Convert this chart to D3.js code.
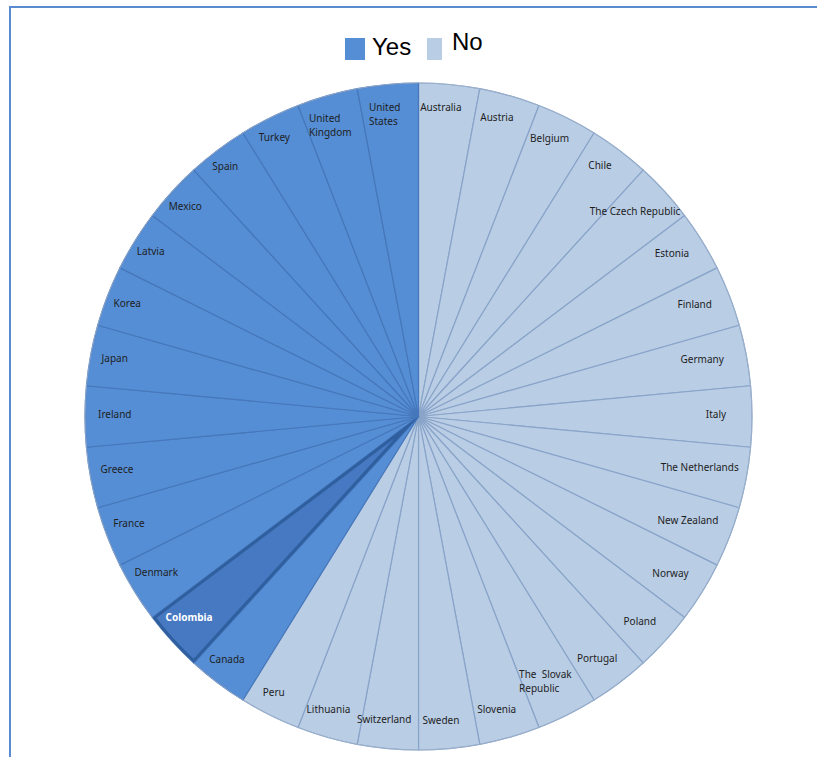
<!DOCTYPE html>
<html>
<head>
<meta charset="utf-8">
<script src="https://cdn.jsdelivr.net/npm/d3@7/dist/d3.min.js"></script>
<style>
  html, body { margin: 0; padding: 0; background: #fff; }
  svg { display: block; }
</style>
</head>
<body>
<div id="chart"></div>
<script>
// answer groups, in the order the slices run clockwise from 12 o'clock
var groups = ["No", "Yes"];
var groupColors = { Yes: "#558ed5", No: "#b9cde5" };

var noCountries = ["Australia", "Austria", "Belgium", "Chile", "The Czech Republic",
  "Estonia", "Finland", "Germany", "Italy", "The Netherlands", "New Zealand", "Norway",
  "Poland", "Portugal", "The Slovak Republic", "Slovenia", "Sweden", "Switzerland",
  "Lithuania", "Peru"];
var yesCountries = ["Canada", "Colombia", "Denmark", "France", "Greece", "Ireland",
  "Japan", "Korea", "Latvia", "Mexico", "Spain", "Turkey", "United Kingdom", "United States"];

// every country counts once
var countryWeight = 1;
var highlighted = "Colombia";

// labels that wrap onto two lines
var labelLines = {
  "United States": ["United", "States"],
  "United Kingdom": ["United", "Kingdom"],
  "The Slovak Republic": ["The  Slovak", "Republic"]
};

var width = 817, height = 757;
var cx = 418.5, cy = 416.5, R = 333.5;

var data = noCountries.map(function (c) { return { name: c, group: "No" }; })
  .concat(yesCountries.map(function (c) { return { name: c, group: "Yes" }; }));

var svg = d3.select("#chart").append("svg")
  .attr("width", width).attr("height", height);

// frame
svg.append("path")
  .attr("d", "M10," + height + "V7H" + width)
  .attr("fill", "none")
  .attr("stroke", "#5a8ad0")
  .attr("stroke-width", 2);

// legend
var legend = svg.append("g").attr("transform", "translate(345,38)");
var lx = 0;
groups.slice().reverse().forEach(function (gname, i) {
  var item = legend.append("g").attr("transform", "translate(" + lx + ",0)");
  item.append("rect")
    .attr("width", i === 0 ? 20 : 15).attr("height", 22)
    .attr("fill", groupColors[gname]);
  item.append("text")
    .attr("x", i === 0 ? 27 : 25)
    .attr("y", i === 0 ? 17 : 12)
    .attr("font-family", "Liberation Sans, Arial, sans-serif")
    .attr("font-size", 24)
    .attr("fill", "#000")
    .text(gname);
  lx += 82;
});

var g = svg.append("g").attr("transform", "translate(" + cx + "," + cy + ")");

var pie = d3.pie().sort(null).value(function () { return countryWeight; });
var arcs = pie(data);
var arc = d3.arc().innerRadius(0).outerRadius(R);

var defs = svg.append("defs");

g.selectAll(".slice")
  .data(arcs)
  .join("path")
  .attr("class", "slice")
  .attr("d", arc)
  .attr("fill", function (d) { return groupColors[d.data.group]; })
  .attr("stroke", function (d) {
    return d.data.group === "Yes" ? "#4677bb" : "#89a4c9";
  })
  .attr("stroke-width", 1.2)
  .attr("stroke-linejoin", "round");

// outer rim
g.append("circle")
  .attr("r", R)
  .attr("fill", "none")
  .attr("stroke", "#9fb3cc")
  .attr("stroke-width", 0.8);

// highlighted slice, bevelled border
var hi = arcs.filter(function (d) { return d.data.name === highlighted; })[0];
defs.append("clipPath").attr("id", "hiclip")
  .append("path").attr("d", arc(hi));
g.append("path")
  .attr("d", arc(hi))
  .attr("fill", "#4679c2");
g.append("path")
  .attr("d", arc(hi))
  .attr("fill", "none")
  .attr("stroke", "#2f5f9e")
  .attr("stroke-width", 6)
  .attr("stroke-linejoin", "round")
  .attr("clip-path", "url(#hiclip)");

// labels, placed inside the outer end of each slice (roughly like Excel's "inside end")
var labels = g.selectAll(".lbl")
  .data(arcs)
  .join("text")
  .attr("class", "lbl")
  .attr("font-family", "Noto Sans, Open Sans, sans-serif")
  .attr("font-size", 10)
  .attr("font-weight", function (d) { return d.data.name === highlighted ? "bold" : "normal"; })
  .attr("fill", function (d) { return d.data.name === highlighted ? "#fff" : "#1e1e1e"; });

labels.each(function (d) {
  var t = d3.select(this);
  var lines = labelLines[d.data.name] || [d.data.name];
  lines.forEach(function (ln, i) {
    t.append("tspan").attr("x", 0).attr("dy", i === 0 ? 0 : 14)
      .attr("xml:space", "preserve").text(ln);
  });
  var bb = this.getBBox();
  var a = (d.startAngle + d.endAngle) / 2;
  var s = Math.sin(a), c = Math.cos(a);
  var w = Math.min(bb.width, 50);
  var half = w / 2 * Math.abs(s) + bb.height / 2 * Math.abs(c);
  var margin = 19 - 10 * Math.abs(Math.sin(2 * a));
  var dist = R - margin - half;
  var px = dist * s - 6, py = -dist * c - 3;
  t.attr("transform", "translate(" + (px - bb.x - bb.width / 2) + "," +
    (py - bb.y - bb.height / 2) + ")");
});
</script>
</body>
</html>
